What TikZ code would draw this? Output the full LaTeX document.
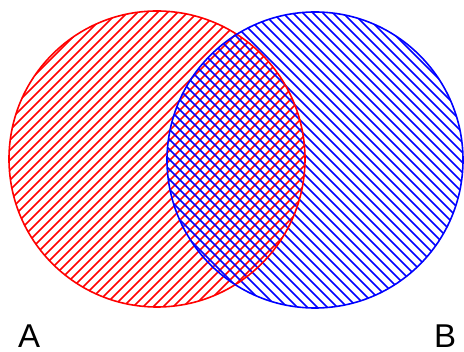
\documentclass[tikz,border=0pt]{standalone}
\usepackage{fontspec}
\setmainfont{Liberation Sans}
\begin{document}
\begin{tikzpicture}[x=1pt,y=-1pt,
  ring/.style={line width=1.6pt},
  hatch/.style={line width=1.6pt},
  lbl/.style={font=\fontsize{33}{33}\selectfont, inner sep=0pt, anchor=base west}]
\useasboundingbox (0,0) rectangle (464,352);
\coordinate (ca) at (157,159);
\coordinate (cb) at (315,160);
\begin{scope}
  \clip (ca) circle[radius=148];
  \foreach \i in {9,...,54} \draw[hatch, red] (\i*10-400,400) -- (\i*10+400,-400);
\end{scope}
\begin{scope}
  \clip (cb) circle[radius=148];
  \foreach \i in {-7,...,38} \draw[hatch, blue] (\i*10-400,-400) -- (\i*10+400,400);
\end{scope}
\draw[ring, red] (ca) circle[radius=148];
\draw[ring, blue] (cb) circle[radius=148];
\node[lbl] (a) at (18,348) {A};
\node[lbl] (b) at (434,348) {B};
\end{tikzpicture}
\end{document}
